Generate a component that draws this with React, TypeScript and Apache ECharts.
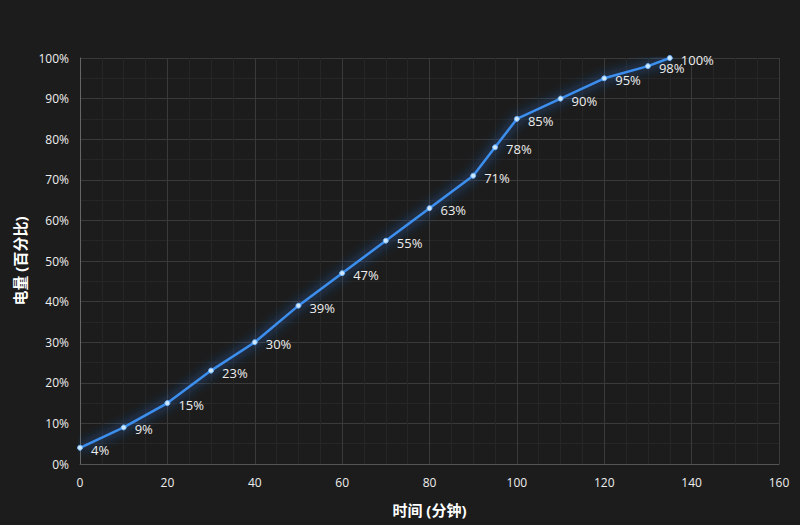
import React, { useEffect, useRef } from "react";
import * as echarts from "echarts";

const minutes = [0, 10, 20, 30, 40, 50, 60, 70, 80, 90, 95, 100, 110, 120, 130, 135];
const battery = [4, 9, 15, 23, 30, 39, 47, 55, 63, 71, 78, 85, 90, 95, 98, 100];
const xAxisName = "时间 (分钟)";
const yAxisName = "电量 (百分比)";

export default function App() {
  const ref = useRef<HTMLDivElement>(null);
  useEffect(() => {
    if (!ref.current) return;
    const chart = echarts.init(ref.current, undefined, { renderer: "svg" });
    const font = "'Open Sans', 'Noto Sans CJK SC', sans-serif";
    chart.setOption({
      animation: false,
      backgroundColor: "#1c1c1c",
      textStyle: { fontFamily: font },
      grid: { left: 80, top: 58, width: 699, height: 406, containLabel: false },
      xAxis: {
        type: "value",
        min: 0,
        max: 160,
        interval: 20,
        name: xAxisName,
        nameLocation: "middle",
        nameGap: 38,
        nameTextStyle: { color: "#ffffff", fontSize: 15, fontWeight: "bold", fontFamily: font },
        axisLine: { show: true, lineStyle: { color: "#555" } },
        axisTick: { show: false },
        axisLabel: { color: "#eeeeee", fontSize: 12, margin: 12 },
        splitLine: { show: true, lineStyle: { color: "#3a3a3a", width: 1 } },
        minorTick: { show: false, splitNumber: 4 },
        minorSplitLine: { show: true, lineStyle: { color: "#262626", width: 1 } },
      },
      yAxis: {
        type: "value",
        min: 0,
        max: 100,
        interval: 10,
        name: yAxisName,
        nameLocation: "middle",
        nameGap: 44,
        nameRotate: 90,
        nameTextStyle: { color: "#ffffff", fontSize: 15, fontWeight: "bold", fontFamily: font },
        axisLine: { show: true, lineStyle: { color: "#666" } },
        axisTick: { show: false },
        axisLabel: { color: "#eeeeee", fontSize: 12, margin: 11, formatter: "{value}%" },
        splitLine: { show: true, lineStyle: { color: "#3a3a3a", width: 1 } },
        minorTick: { show: false, splitNumber: 2 },
        minorSplitLine: { show: true, lineStyle: { color: "#262626", width: 1 } },
      },
      series: [
        {
          type: "line",
          data: minutes.map((m, i) => [m, battery[i]]),
          smooth: false,
          symbol: "circle",
          symbolSize: 5,
          itemStyle: { color: "#cfe8ff", borderColor: "#6fb6ff", borderWidth: 1 },
          lineStyle: {
            color: "#3d8fef",
            width: 2.5,
            shadowColor: "rgba(40,130,255,1)",
            shadowBlur: 12,
          },
          label: {
            show: true,
            position: "right",
            distance: 8,
            offset: [0, 2],
            color: "#eeeeee",
            fontSize: 13,
            formatter: (p: any) => p.value[1] + "%",
          },
        },
      ],
    });
    return () => chart.dispose();
  }, []);
  return (
    <div
      ref={ref}
      style={{ position: "fixed", left: 0, top: 0, width: 800, height: 525 }}
    />
  );
}
